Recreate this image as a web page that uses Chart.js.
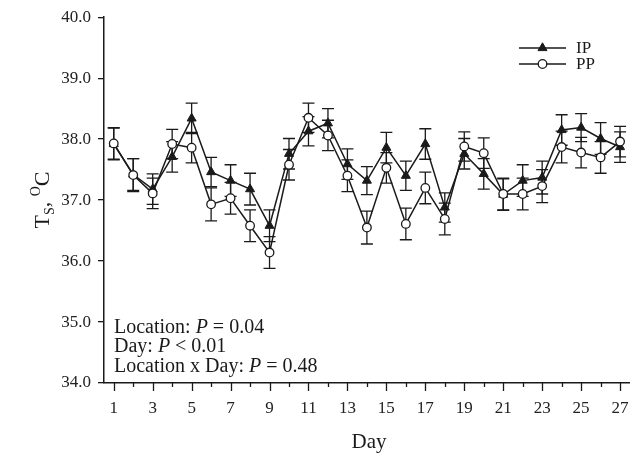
<!DOCTYPE html>
<html><head><meta charset="utf-8">
<script src="https://cdn.jsdelivr.net/npm/chart.js@4/dist/chart.umd.min.js"></script>
<style>html,body{margin:0;padding:0;background:#fff}#wrap{width:636px;height:456px;position:relative}</style>
</head><body><div id="wrap"><canvas id="c" width="636" height="456"></canvas></div>
<script>
const days = [1,2,3,4,5,6,7,8,9,10,11,12,13,14,15,16,17,18,19,20,21,22,23,24,25,26,27];
const ipMean = [37.92,37.42,37.18,37.71,38.34,37.46,37.32,37.18,36.58,37.76,38.13,38.26,37.59,37.32,37.86,37.40,37.92,36.88,37.76,37.43,37.09,37.32,37.37,38.15,38.19,38.01,37.87];
const ipSE   = [0.26,0.26,0.25,0.25,0.25,0.24,0.26,0.26,0.26,0.25,0.24,0.24,0.25,0.23,0.25,0.24,0.25,0.24,0.25,0.25,0.26,0.26,0.27,0.25,0.23,0.26,0.25];
const ppMean = [37.93,37.41,37.11,37.92,37.86,36.93,37.03,36.58,36.14,37.58,38.35,38.06,37.40,36.55,37.53,36.61,37.20,36.69,37.88,37.77,37.10,37.10,37.23,37.87,37.78,37.70,37.96];
const ppSE   = [0.26,0.27,0.25,0.24,0.25,0.27,0.26,0.26,0.26,0.25,0.24,0.25,0.26,0.27,0.25,0.26,0.26,0.26,0.24,0.25,0.26,0.26,0.27,0.26,0.25,0.26,0.25];
const seriesNames = ['IP','PP'];
const yTicks = [34,35,36,37,38,39,40];
const statNames = ['Location','Day','Location x Day'];
const statOps = ['=','<','='];
const statValues = ['0.04','0.01','0.48'];

const FONT = '"Liberation Serif", "Times New Roman", serif';
const INK = '#1a1a1a';

const errorBarPlugin = {
  id: 'errorBars',
  beforeDatasetsDraw(chart) {
    const {ctx, scales: {x, y}} = chart;
    ctx.save();
    ctx.strokeStyle = INK; ctx.lineWidth = 1.3;
    chart.data.datasets.forEach(ds => {
      ds.data.forEach((p, j) => {
        const px = x.getPixelForValue(p.x);
        const yt = y.getPixelForValue(p.y + ds.se[j]);
        const yb = y.getPixelForValue(p.y - ds.se[j]);
        ctx.beginPath();
        ctx.moveTo(px, yt); ctx.lineTo(px, yb);
        ctx.moveTo(px - 6, yt); ctx.lineTo(px + 6, yt);
        ctx.moveTo(px - 6, yb); ctx.lineTo(px + 6, yb);
        ctx.stroke();
      });
    });
    ctx.restore();
  }
};

const decorPlugin = {
  id: 'decor',
  afterDraw(chart) {
    const {ctx, chartArea, scales: {x}} = chart;
    ctx.save();
    // x tick marks: long at odd days, short at even days
    ctx.strokeStyle = INK; ctx.lineWidth = 1.3;
    days.forEach(d => {
      const px = Math.round(x.getPixelForValue(d)) + 0.5;
      const len = d % 2 ? 8 : 4;
      ctx.beginPath(); ctx.moveTo(px, chartArea.bottom); ctx.lineTo(px, chartArea.bottom + len); ctx.stroke();
    });
    // statistics text
    ctx.fillStyle = INK; ctx.textBaseline = 'alphabetic'; ctx.textAlign = 'left';
    const baselines = [332.5, 352, 371.5];
    statNames.forEach((n, i) => {
      let tx = 114;
      const parts = [[n + ': ', false], ['P', true], [' ' + statOps[i] + ' ' + statValues[i], false]];
      parts.forEach(([t, it]) => {
        ctx.font = (it ? 'italic ' : '') + '20px ' + FONT;
        ctx.fillText(t, tx, baselines[i]);
        tx += ctx.measureText(t).width;
      });
    });
    // legend (IP first, then PP)
    const order = seriesNames;
    const ly = [48, 64];
    order.forEach((name, i) => {
      const ds = chart.data.datasets.find(d => d.label === name);
      const yy = ly[i];
      ctx.strokeStyle = INK; ctx.lineWidth = 1.5;
      ctx.beginPath(); ctx.moveTo(519, yy); ctx.lineTo(566, yy); ctx.stroke();
      ctx.fillStyle = ds.pointBackgroundColor; ctx.strokeStyle = INK; ctx.lineWidth = ds.pointBorderWidth;
      ctx.beginPath();
      if (ds.pointStyle === 'circle') { ctx.arc(542.5, yy, ds.pointRadius, 0, Math.PI * 2); }
      else { const r = ds.pointRadius; ctx.moveTo(542.5, yy - r); ctx.lineTo(542.5 + r * 0.866, yy + r * 0.5); ctx.lineTo(542.5 - r * 0.866, yy + r * 0.5); ctx.closePath(); }
      ctx.fill(); ctx.stroke();
      ctx.fillStyle = INK; ctx.font = '17px ' + FONT; ctx.textBaseline = 'middle'; ctx.textAlign = 'left';
      ctx.fillText(ds.label, 576, yy + 1);
    });
    // y axis title: T_S, superscript O, C
    ctx.save();
    ctx.translate(41, 200);
    ctx.rotate(-Math.PI / 2);
    ctx.textBaseline = 'alphabetic'; ctx.textAlign = 'left';
    const segs = [['T', 22, 0], ['S', 14, 5], [', ', 22, 0], ['O', 14, -9], ['C', 22, 0]];
    let total = 0;
    segs.forEach(([t, s]) => { ctx.font = s + 'px ' + FONT; total += ctx.measureText(t).width; });
    let tx = -total / 2;
    segs.forEach(([t, s, dy]) => {
      ctx.font = s + 'px ' + FONT;
      ctx.fillText(t, tx, 8 + dy);
      tx += ctx.measureText(t).width;
    });
    ctx.restore();
    // x axis title
    ctx.font = '21px ' + FONT; ctx.textAlign = 'center'; ctx.textBaseline = 'alphabetic';
    ctx.fillText('Day', 369, 448);
    ctx.restore();
  }
};

new Chart(document.getElementById('c'), {
  type: 'line',
  data: {
    datasets: [
      {
        label: seriesNames[1],
        data: days.map((d, i) => ({x: d, y: ppMean[i]})),
        se: ppSE,
        borderColor: INK, borderWidth: 1.5,
        pointStyle: 'circle', pointRadius: 4.3, pointBorderWidth: 1.3,
        pointBackgroundColor: '#ffffff', pointBorderColor: INK,
        tension: 0, clip: false
      },
      {
        label: seriesNames[0],
        data: days.map((d, i) => ({x: d, y: ipMean[i]})),
        se: ipSE,
        borderColor: INK, borderWidth: 1.5,
        pointStyle: 'triangle', pointRadius: 5.2, pointBorderWidth: 1,
        pointBackgroundColor: INK, pointBorderColor: INK,
        tension: 0, clip: false
      }
    ]
  },
  options: {
    responsive: false,
    animation: false,
    events: [],
    layout: {padding: {top: 16, right: 5, left: 0, bottom: 0}},
    plugins: {legend: {display: false}, tooltip: {enabled: false}},
    scales: {
      x: {
        type: 'linear', min: 0.5, max: 27.5,
        afterBuildTicks: s => { s.ticks = days.map(v => ({value: v})); },
        afterFit: s => { s.height = 73; },
        grid: {display: true, drawOnChartArea: false, drawTicks: true, tickLength: 8, color: 'rgba(0,0,0,0)'},
        border: {display: true, color: INK, width: 1.5},
        ticks: {
          autoSkip: false, maxRotation: 0, padding: 7,
          color: '#222', font: {family: FONT, size: 17},
          callback: v => (v % 2 === 1 ? String(v) : '')
        }
      },
      y: {
        min: 34, max: 40,
        afterBuildTicks: s => { s.ticks = yTicks.map(v => ({value: v})); },
        afterFit: s => { s.width = 104; },
        grid: {display: true, drawOnChartArea: false, drawTicks: true, tickLength: 6, color: INK, lineWidth: 1.3},
        border: {display: true, color: INK, width: 1.5},
        ticks: {padding: 7, color: '#222', font: {family: FONT, size: 17}, callback: v => Number(v).toFixed(1)}
      }
    }
  },
  plugins: [errorBarPlugin, decorPlugin]
});
</script>
</body></html>
